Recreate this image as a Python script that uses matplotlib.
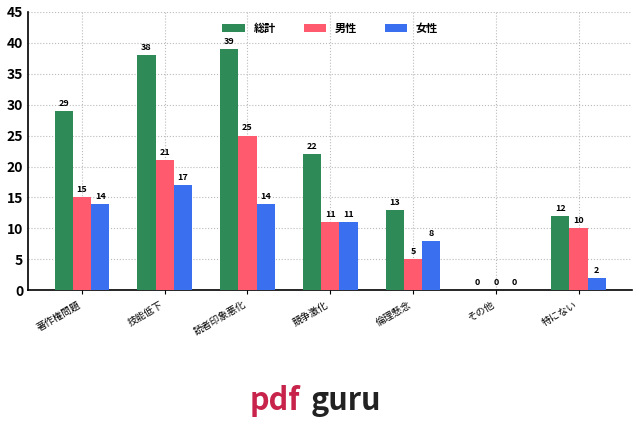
import numpy as np
import matplotlib.pyplot as plt

plt.rcParams['font.family'] = ['Noto Sans CJK JP', 'DejaVu Sans']

categories = ["著作権問題", "技能低下", "読者印象悪化", "競争激化", "倫理懸念", "その他", "特にない"]
total = [29, 38, 39, 22, 13, 0, 12]
male = [15, 21, 25, 11, 5, 0, 10]
female = [14, 17, 14, 11, 8, 0, 2]
series = [("総計", total, "#2e8b57"), ("男性", male, "#ff5a6e"), ("女性", female, "#3a6ff0")]

fig = plt.figure(figsize=(6.4, 4.41), dpi=100)
ax = fig.add_axes([0.044, 0.342, 0.944, 0.631])

x = np.arange(len(categories))
w = 0.22
for i, (name, vals, col) in enumerate(series):
    pos = x + (i - 1) * w
    ax.bar(pos, vals, w, color=col, label=name, zorder=3)
    for p, v in zip(pos, vals):
        ax.text(p, v + 0.5, str(v), ha="center", va="bottom", fontsize=6.5, fontweight="bold")

ax.set_xlim(-0.65, 6.65)
ax.set_ylim(0, 45)
ax.set_yticks(range(0, 46, 5))
ax.set_xticks(x)
ax.set_xticklabels(categories, rotation=30, ha="right", fontsize=7)
ax.tick_params(axis="y", labelsize=10, length=0)
for t in ax.get_yticklabels():
    t.set_fontweight("bold")
ax.tick_params(axis="x", length=3)
ax.grid(True, linestyle=":", color="#bbbbbb", linewidth=0.8, zorder=0)
ax.spines["top"].set_visible(False)
ax.spines["right"].set_visible(False)
ax.spines["left"].set_linewidth(1.2)
ax.spines["bottom"].set_linewidth(1.2)
ax.legend(loc="upper center", ncol=3, frameon=False, prop={"size": 8, "weight": "bold"},
          handlelength=2, handleheight=0.6, columnspacing=2.5)

fig.text(0.43, 0.09, "pdf", color="#c8234a", fontsize=22, fontweight="bold", ha="center", va="center", style="italic")
fig.text(0.54, 0.09, "guru", color="#222222", fontsize=22, fontweight="bold", ha="center", va="center")

fig.savefig("out.png", dpi=100)
